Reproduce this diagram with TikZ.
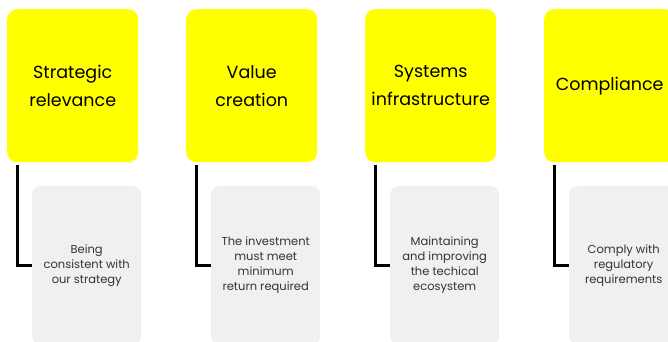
\documentclass[tikz,border=0pt]{standalone}
\usepackage{fontspec}
\setmainfont{Poppins}
\definecolor{headyellow}{HTML}{FFFF00}
\definecolor{notegray}{HTML}{F0F0F0}
\definecolor{notetext}{HTML}{333333}
\tikzset{
  headbox/.style={fill=headyellow, rounded corners=10pt, anchor=north west,
    minimum width=131pt, minimum height=153pt, inner sep=0pt, align=center,
    font=\fontsize{17.5}{28}\selectfont, text=black},
  notebox/.style={fill=notegray, rounded corners=8pt, anchor=north west,
    minimum width=109pt, minimum height=158pt, inner sep=0pt, align=center,
    font=\fontsize{11.5}{15}\selectfont, text=notetext},
  link/.style={draw=black, line width=3pt}
}
\begin{document}
\begin{tikzpicture}[x=1pt, y=1pt]
  \useasboundingbox (0,0) rectangle (668,341);
  \clip (0,0) rectangle (668,341);
  \foreach \i/\head/\note in {
      0/{Strategic\\relevance}/{Being\\consistent with\\our strategy},
      1/{Value\\creation}/{The investment\\must meet\\minimum\\return required},
      2/{Systems\\infrastructure}/{Maintaining\\and improving\\the techical\\ecosystem},
      3/{Compliance}/{Comply with\\regulatory\\requirements}} {
    \node[headbox] (h\i) at ({7+179*\i}, 332) {\head};
    \node[notebox] (n\i) at ({32+179*\i}, 155) {\note};
    \coordinate (s\i) at ({17.5+179*\i}, 176);
    \draw[link] (s\i) |- (n\i.west);
  }
\end{tikzpicture}
\end{document}
